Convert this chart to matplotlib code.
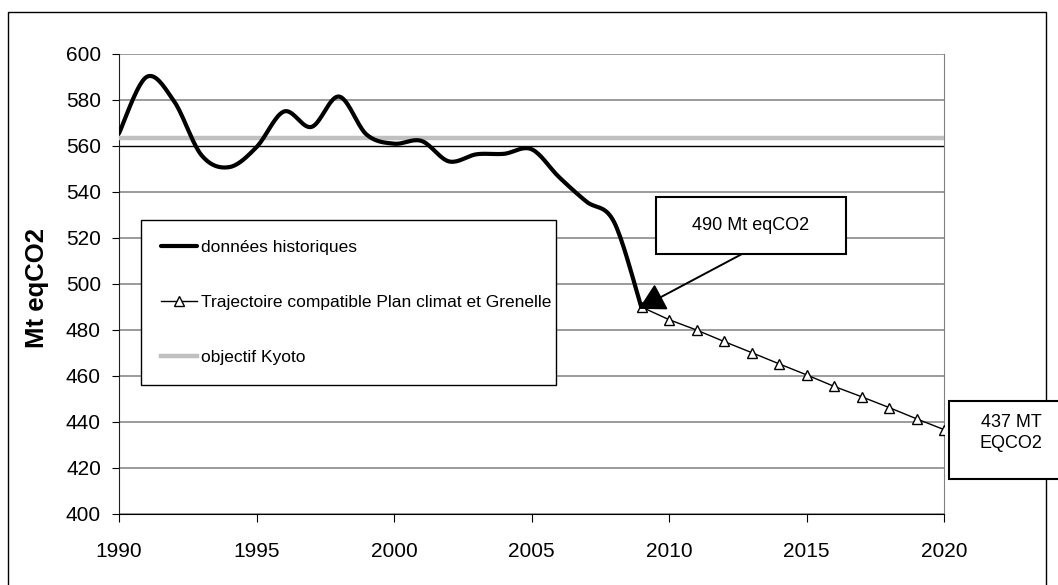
import numpy as np
import matplotlib.pyplot as plt
from matplotlib.patches import Rectangle

plt.rcParams['font.family'] = ['Liberation Sans', 'DejaVu Sans']

# data
annees_hist = list(range(1990, 2010))
hist = [565.5, 590, 579.5, 556, 550.8, 559.5, 575, 568.3, 581.5, 565,
        561, 562.2, 553.3, 556.4, 556.6, 558.6, 546.5, 535.8, 527, 489.6]
annees_traj = list(range(2009, 2021))
traj = [490, 484.5, 480, 475, 470.2, 465.3, 460.5, 455.5, 451, 446.3, 441.4, 436.7]
kyoto_x = [1990, 2020]
kyoto = [563.6, 563.6]

W, H = 1058, 585


def lisse(x, y, n=20):
    # courbe lissee facon tableur (bezier, tangentes /6)
    x = np.asarray(x, float)
    y = np.asarray(y, float)
    px = np.concatenate([[x[0]], x, [x[-1]]])
    py = np.concatenate([[y[0]], y, [y[-1]]])
    xs, ys = [], []
    t = np.linspace(0, 1, n)
    for i in range(1, len(px) - 2):
        p0 = np.array([px[i], py[i]])
        p3 = np.array([px[i + 1], py[i + 1]])
        p1 = p0 + (np.array([px[i + 1], py[i + 1]]) - np.array([px[i - 1], py[i - 1]])) / 6
        p2 = p3 - (np.array([px[i + 2], py[i + 2]]) - np.array([px[i], py[i]])) / 6
        b = ((1 - t) ** 3)[:, None] * p0 + (3 * (1 - t) ** 2 * t)[:, None] * p1 \
            + (3 * (1 - t) * t ** 2)[:, None] * p2 + (t ** 3)[:, None] * p3
        xs.extend(b[:, 0])
        ys.extend(b[:, 1])
    return xs, ys


fig = plt.figure(figsize=(W / 100, H / 100), dpi=100)
ax = fig.add_axes([119 / W, 1 - 514 / H, 825 / W, 460 / H])

hx, hy = lisse(annees_hist, hist)
ax.plot(hx, hy, color='black', lw=3, solid_capstyle='round', zorder=4,
        label='données historiques')
ax.plot(annees_traj, traj, color='black', lw=1, marker='^', ms=6.5,
        mfc='white', mec='black', mew=1, zorder=5,
        label='Trajectoire compatible Plan climat et Grenelle')
ax.plot(kyoto_x, kyoto, color='#c0c0c0', lw=3.2, zorder=3, label='objectif Kyoto')

ax.set_xlim(1990, 2020)
ax.set_ylim(400, 600)
ax.set_xticks(range(1990, 2021, 5))
ax.set_yticks(range(400, 601, 20))
ax.grid(axis='y', color='#808080', lw=1.1)
ax.set_axisbelow(True)
for gl, v in zip(ax.yaxis.get_gridlines(), range(400, 601, 20)):
    if v == 560:
        gl.set_color('black')
        gl.set_linewidth(1)

ax.spines['top'].set_visible(False)
ax.spines['right'].set_color('#808080')
ax.spines['left'].set_color('#202020')
ax.spines['bottom'].set_color('black')
ax.tick_params(axis='y', length=5, pad=8, labelsize=15, direction='out')
ax.tick_params(axis='x', length=6, pad=14, labelsize=15, direction='out')
ax.set_ylabel('Mt eqCO2', fontweight='bold', fontsize=18.5)
ax.yaxis.set_label_coords((49 - 119) / 825, 1 - (288 - 54) / 460)

leg = ax.legend(loc='upper left', bbox_to_anchor=(141 / W, 1 - 220 / H - 0.1, 415 / W, 0.1),
                bbox_transform=fig.transFigure, mode='expand', fontsize=12.5,
                frameon=True, fancybox=False, framealpha=1, edgecolor='black',
                borderpad=1.15, labelspacing=2.3, handlelength=2.05,
                handletextpad=0.25, numpoints=1, borderaxespad=0)
leg.get_frame().set_linewidth(1)

# cadre exterieur
fig.patches.append(Rectangle((8 / W, -0.1), 1038 / W, 1.1 - 12 / H, transform=fig.transFigure,
                             fill=False, edgecolor='black', lw=1, zorder=0))

# etiquette 490
fig.patches.append(Rectangle((656 / W, 1 - 254 / H), 190 / W, 57 / H, transform=fig.transFigure,
                             facecolor='white', edgecolor='black', lw=1.5, zorder=6))
fig.text(751 / W, 1 - 226 / H, '490 Mt eqCO2', ha='center', va='center', fontsize=13, zorder=7)
ax.annotate('', xy=(annees_traj[0] - 0.1, traj[0] - 0.8), xycoords='data',
            xytext=(742, H - 254), textcoords='figure pixels',
            arrowprops=dict(arrowstyle='-|>,head_length=0.45,head_width=0.25',
                            mutation_scale=36, color='black', lw=1.4,
                            shrinkA=0, shrinkB=0), zorder=8)

# etiquette 437
fig.patches.append(Rectangle((949 / W, 1 - 479 / H), 130 / W, 78 / H, transform=fig.transFigure,
                             facecolor='white', edgecolor='black', lw=1.5, zorder=6))
fig.text(1011 / W, 1 - 433 / H, '437 MT\nEQCO2', ha='center', va='center', fontsize=13,
         linespacing=1.3, zorder=7)

fig.savefig('out.png', dpi=100)
